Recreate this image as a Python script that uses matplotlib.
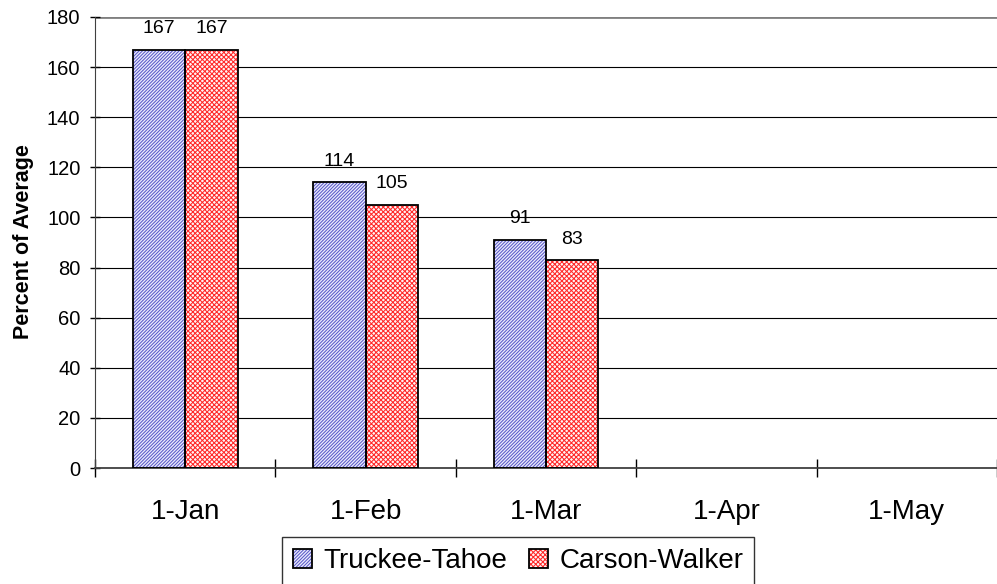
import matplotlib
matplotlib.use("Agg")
import matplotlib.pyplot as plt
from matplotlib.patches import Patch

plt.rcParams['font.family'] = ['Liberation Sans', 'DejaVu Sans']
plt.rcParams['hatch.linewidth'] = 0.75

# data
categories = ["1-Jan", "1-Feb", "1-Mar", "1-Apr", "1-May"]
truckee_tahoe = [167, 114, 91]
carson_walker = [167, 105, 83]
series_names = ["Truckee-Tahoe", "Carson-Walker"]

blue_face, blue_hatch = "#ececfd", "#5a5ac8"
red_face, red_hatch = "#fff4f4", "#ff2a2a"
blue_pattern = "/" * 10
red_pattern = "x" * 7

fig = plt.figure(figsize=(9.97, 5.84), dpi=100)
ax = fig.add_axes([95 / 997, 1 - 468 / 584, 1 - 95 / 997, 451 / 584])

width = 0.29
x_tt = [i - width / 2 for i in range(len(truckee_tahoe))]
x_cw = [i + width / 2 for i in range(len(carson_walker))]

# hatched fill first, then black outline on top
ax.bar(x_tt, truckee_tahoe, width, color=blue_face, edgecolor=blue_hatch,
       hatch=blue_pattern, linewidth=0, zorder=2)
ax.bar(x_tt, truckee_tahoe, width, facecolor="none", edgecolor="black",
       linewidth=1.3, zorder=3)
ax.bar(x_cw, carson_walker, width, color=red_face, edgecolor=red_hatch,
       hatch=red_pattern, linewidth=0, zorder=2)
ax.bar(x_cw, carson_walker, width, facecolor="none", edgecolor="black",
       linewidth=1.3, zorder=3)

for xs, vals in ((x_tt, truckee_tahoe), (x_cw, carson_walker)):
    for x, v in zip(xs, vals):
        ax.annotate(str(v), (x, v), xytext=(0, 9), textcoords="offset points",
                    ha="center", va="bottom", fontsize=14)

ax.set_xlim(-0.5, len(categories) - 0.5)
ax.set_ylim(0, 180)
ax.set_yticks(range(0, 181, 20))
ax.set_xticks(range(len(categories)))
ax.set_xticklabels(categories, fontsize=20)
ax.set_xticks([i - 0.5 for i in range(len(categories) + 1)], minor=True)
ax.tick_params(axis="x", which="major", length=0, pad=22)
ax.tick_params(axis="x", which="minor", direction="inout", length=13, width=1)
ax.tick_params(axis="y", direction="inout", length=7, width=1, pad=7, labelsize=14.5)

ax.yaxis.grid(True, color="black", linewidth=0.8, zorder=0)
ax.set_axisbelow(True)
ax.get_ygridlines()[-1].set_color("#808080")
ax.get_ygridlines()[-1].set_linewidth(2)

for side in ("top", "right"):
    ax.spines[side].set_visible(False)
ax.spines["left"].set_color("#404040")
ax.spines["bottom"].set_color("#404040")
ax.spines["bottom"].set_linewidth(1.3)

fig.text(23 / 997, 1 - 242 / 584, "Percent of Average", rotation=90,
         ha="center", va="center", fontsize=15.5, fontweight="bold")

handles = [
    (Patch(facecolor=blue_face, edgecolor=blue_hatch, hatch=blue_pattern, linewidth=0),
     Patch(facecolor="none", edgecolor="black", linewidth=1.3)),
    (Patch(facecolor=red_face, edgecolor=red_hatch, hatch=red_pattern, linewidth=0),
     Patch(facecolor="none", edgecolor="black", linewidth=1.3)),
]
leg = fig.legend(handles, series_names, loc="upper left",
                 bbox_to_anchor=(282 / 997, 1 - 537 / 584), ncol=2, fontsize=20,
                 frameon=True, fancybox=False, edgecolor="black",
                 handlelength=0.68, handleheight=0.68, handletextpad=0.4,
                 columnspacing=0.8, borderpad=0.4, borderaxespad=0)
leg.get_frame().set_linewidth(1)

fig.savefig("out.png", dpi=100)
